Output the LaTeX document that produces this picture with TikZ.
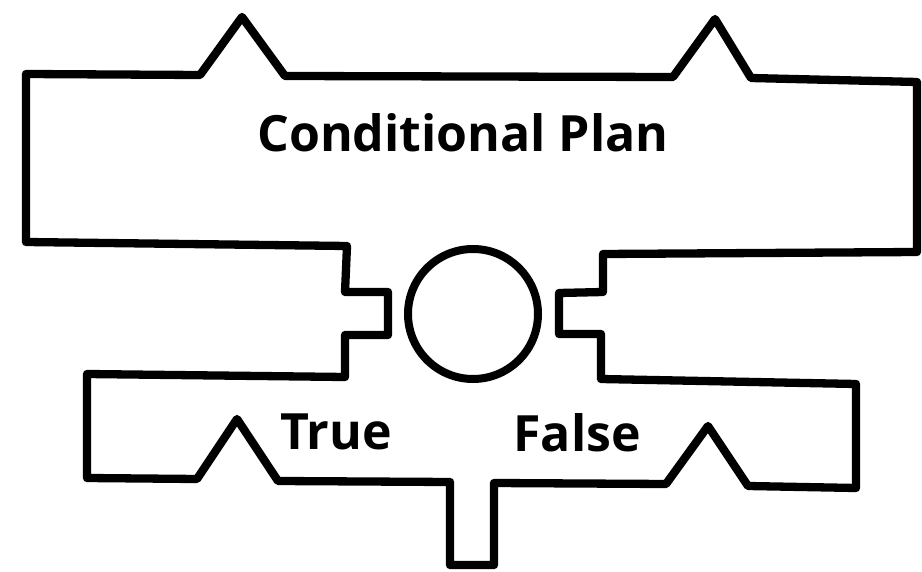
\documentclass[tikz,border=0pt]{standalone}
\usepackage{fontspec}
\setmainfont{Open Sans}
\begin{document}
\begin{tikzpicture}[x=1pt,y=-1pt,
  outline/.style={draw=black,line width=8.3pt,line join=round},
  lbl/.style={font=\fontsize{50}{50}\selectfont\bfseries,inner sep=0pt,anchor=base}]
\useasboundingbox (0,0) rectangle (922,572);
\draw[outline] (26,74) -- (200,75) -- (242,17) -- (285,76) -- (673,77) -- (715,19) -- (751,78)
  -- (917,82) -- (917,252) -- (603,254) -- (603,292) -- (559,293) -- (559,334) -- (601,334)
  -- (601,379) -- (856,384) -- (856,488) -- (748,486) -- (708,426) -- (666,484) -- (494,483)
  -- (494,565) -- (450,565) -- (450,482) -- (278,481) -- (237,419) -- (197,479) -- (87,478)
  -- (87,374) -- (345,377) -- (345,335) -- (388,335) -- (388,292) -- (345,292) -- (347,246)
  -- (26,242) -- cycle;
\node[circle,draw=black,line width=8pt,minimum size=130pt,inner sep=0pt] (cond) at (473,314) {};
\node[lbl] (title) at (463,152) {Conditional Plan};
\node[lbl] (true) at (336,449) {True};
\node[lbl] (false) at (577,451) {False};
\end{tikzpicture}
\end{document}
